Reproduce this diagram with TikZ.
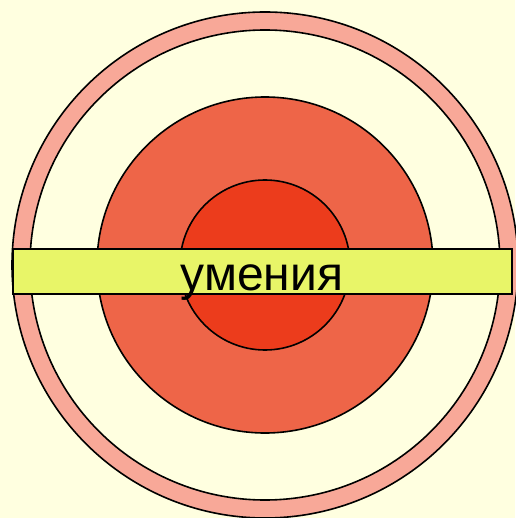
\documentclass[tikz,border=0pt]{standalone}
\usepackage{fontspec}
\setmainfont{Liberation Sans}
\definecolor{paper}{RGB}{255,255,224}
\definecolor{ringpink}{RGB}{248,168,152}
\definecolor{midred}{RGB}{238,101,72}
\definecolor{corered}{RGB}{236,60,28}
\definecolor{barlime}{RGB}{232,245,104}
\begin{document}
\begin{tikzpicture}[x=1pt, y=-1pt, ring/.style={draw=black, line width=1.6pt}, bar/.style={draw=black, line width=1.8pt, fill=barlime}]
			\fill[paper] (0,0) rectangle (515,518);
			\useasboundingbox (0,0) rectangle (515,518);
			\coordinate (c) at (265,265);
			\draw[ring, fill=ringpink] (c) circle[radius=253pt];
			\draw[ring, fill=paper] (c) circle[radius=235pt];
			\draw[ring, fill=midred] (c) circle[radius=168pt];
			\draw[ring, fill=corered] (c) circle[radius=85pt];
			\draw[bar] (13,249) rectangle (512,294);
			\node[anchor=base, inner sep=0pt, font=\fontsize{48}{58}\selectfont] (skills) at (262,290) {умения};
			\end{tikzpicture}
\end{document}
